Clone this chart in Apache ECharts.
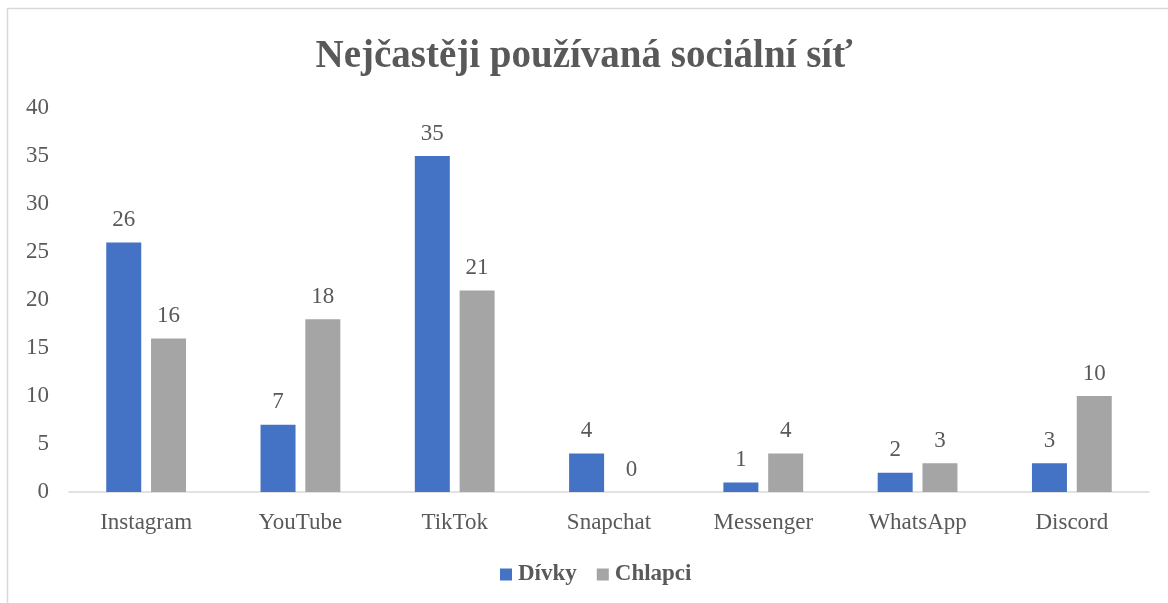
<!DOCTYPE html>
<html>
<head>
<meta charset="utf-8">
<script src="https://cdn.jsdelivr.net/npm/echarts@6/dist/echarts.min.js"></script>
<style>
  html, body { margin: 0; padding: 0; background: #fff; }
  #chart { width: 1168px; height: 603px; }
</style>
</head>
<body>
<div id="chart"></div>
<script>
// data
const categories = ['Instagram', 'YouTube', 'TikTok', 'Snapchat', 'Messenger', 'WhatsApp', 'Discord'];
const divky = [26, 7, 35, 4, 1, 2, 3];
const chlapci = [16, 18, 21, 0, 4, 3, 10];

const FONT = '"Liberation Serif", "Times New Roman", serif';
const TEXT = '#595959';

const chart = echarts.init(document.getElementById('chart'));

const labelStyle = {
  show: true,
  position: 'top',
  distance: 11,
  fontFamily: FONT,
  fontSize: 23,
  color: TEXT
};

chart.setOption({
  animation: false,
  title: {
    text: 'Nejčastěji používaná sociální síť',
    left: 'center',
    top: 32,
    textStyle: { fontFamily: FONT, fontSize: 39, fontWeight: 'bold', color: TEXT }
  },
  // outer chart frame (cropped on right and bottom in the reference)
  graphic: [{
    type: 'rect',
    shape: { x: 7.5, y: 8.5, width: 1200, height: 700 },
    style: { fill: 'none', stroke: '#d9d9d9', lineWidth: 1.5 },
    silent: true
  }],
  legend: {
    bottom: 12,
    left: 495,
    itemWidth: 12,
    itemHeight: 12,
    itemGap: 20,
    icon: 'rect',
    textStyle: { fontFamily: FONT, fontSize: 23, fontWeight: 'bold', color: TEXT, padding: [0, 0, 0, 1] },
    data: ['Dívky', 'Chlapci']
  },
  grid: { left: 69, right: 19, top: 108, bottom: 111, containLabel: false },
  xAxis: {
    type: 'category',
    data: categories,
    axisLine: { lineStyle: { color: '#d9d9d9', width: 1.5 } },
    axisTick: { show: false },
    axisLabel: { fontFamily: FONT, fontSize: 23, color: TEXT, margin: 19 }
  },
  yAxis: {
    type: 'value',
    min: 0,
    max: 40,
    interval: 5,
    splitLine: { show: false },
    axisLine: { show: false },
    axisTick: { show: false },
    axisLabel: { fontFamily: FONT, fontSize: 23, color: TEXT, margin: 20 }
  },
  series: [
    {
      name: 'Dívky',
      type: 'bar',
      data: divky,
      barWidth: 35,
      barGap: '28%',
      itemStyle: { color: '#4472c4' },
      label: labelStyle
    },
    {
      name: 'Chlapci',
      type: 'bar',
      data: chlapci,
      barWidth: 35,
      itemStyle: { color: '#a5a5a5' },
      label: labelStyle
    }
  ]
});
</script>
</body>
</html>
